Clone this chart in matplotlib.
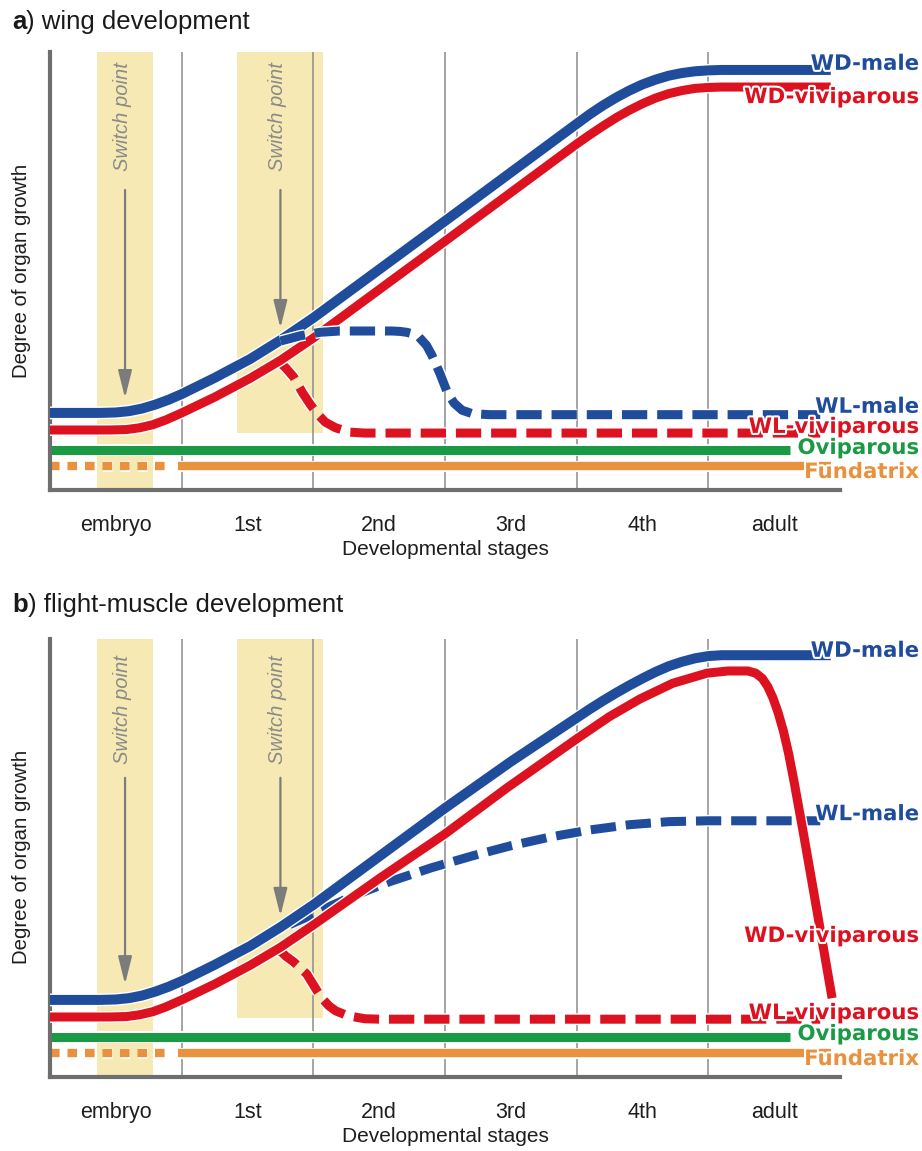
import matplotlib.pyplot as plt
import matplotlib.patheffects as pe
import numpy as np

plt.rcParams['font.family'] = ['Liberation Sans', 'DejaVu Sans']

# stages on the x axis
stage_names = ['embryo', '1st', '2nd', '3rd', '4th', 'adult']
stage_edges = [1, 2, 3, 4, 5]

# switch point bands (stage units)
band1 = [0.36, 0.78]
band2 = [1.42, 2.07]

# ---- panel a: wing development ----
wd_male_a_x = [0, 0.38, 0.50, 0.60, 0.70, 0.80, 0.90, 1.00, 1.25, 1.52, 1.75, 2.00, 3.00, 4.00, 4.10, 4.20, 4.30, 4.40, 4.50, 4.60, 4.70, 4.80, 4.90, 5.00, 5.10, 5.93]
wd_male_a_y = [17.6, 17.6, 17.7, 18.0, 18.6, 19.5, 20.6, 21.9, 25.6, 29.9, 34.2, 39.3, 61.4, 83.6, 85.8, 87.8, 89.6, 91.2, 92.6, 93.7, 94.6, 95.2, 95.6, 95.8, 95.9, 95.9]
wd_vivi_a_x = [0, 0.45, 0.58, 0.68, 0.78, 0.88, 1.00, 1.25, 1.52, 1.75, 2.00, 3.00, 4.00, 4.10, 4.20, 4.30, 4.40, 4.50, 4.60, 4.70, 4.80, 4.90, 5.00, 5.10, 5.93]
wd_vivi_a_y = [13.7, 13.7, 13.8, 14.2, 14.9, 16.0, 17.6, 21.2, 25.5, 29.6, 34.7, 56.8, 79.0, 81.1, 83.1, 85.0, 86.7, 88.2, 89.5, 90.5, 91.2, 91.7, 91.9, 92.0, 92.0]
wl_male_a_x = [1.75, 1.90, 2.05, 2.20, 2.60, 2.66, 2.71, 2.76, 2.80, 2.86, 2.90, 2.96, 3.02, 3.07, 3.13, 3.21, 3.34, 5.85]
wl_male_a_y = [34.0, 35.2, 36.0, 36.3, 36.3, 36.2, 36.0, 35.6, 35.0, 33.0, 30.8, 26.7, 22.1, 19.8, 18.2, 17.4, 17.2, 17.2]
wl_vivi_a_x = [1.72, 1.76, 1.79, 1.85, 1.92, 1.98, 2.03, 2.09, 2.17, 2.28, 2.39, 5.85]
wl_vivi_a_y = [29.2, 28.7, 27.9, 25.8, 22.1, 19.4, 17.4, 15.5, 14.2, 13.2, 13.0, 13.0]

# ---- panel b: flight-muscle development ----
wd_male_b_x = [0, 0.38, 0.50, 0.60, 0.70, 0.80, 0.90, 1.00, 1.25, 1.52, 1.75, 2.00, 3.00, 3.50, 4.00, 4.10, 4.20, 4.30, 4.40, 4.50, 4.60, 4.70, 4.80, 4.90, 5.00, 5.10, 5.93]
wd_male_b_y = [17.6, 17.6, 17.7, 18.0, 18.6, 19.5, 20.6, 21.9, 25.6, 29.9, 34.2, 39.3, 61.4, 72.0, 82.0, 84.0, 85.9, 87.7, 89.4, 91.0, 92.5, 93.8, 94.8, 95.6, 96.1, 96.3, 96.3]
wd_vivi_b_x = [0, 0.45, 0.58, 0.68, 0.78, 0.88, 1.00, 1.25, 1.52, 1.75, 2.00, 2.50, 3.00, 3.47, 4.00, 4.25, 4.48, 4.73, 4.99, 5.15, 5.30, 5.36, 5.41, 5.45, 5.49, 5.53, 5.57, 5.61, 5.65, 5.72, 5.79, 5.86, 5.94]
wd_vivi_b_y = [13.7, 13.7, 13.8, 14.2, 14.9, 16.0, 17.6, 21.2, 25.5, 29.6, 34.7, 45.3, 55.5, 66.0, 77.2, 82.3, 86.3, 89.9, 92.2, 92.7, 92.7, 92.2, 91.0, 89.2, 86.6, 83.2, 79.0, 73.8, 67.6, 56.0, 44.0, 31.9, 18.0]
wl_male_b_x = [1.82, 1.95, 2.10, 2.30, 2.58, 2.90, 3.21, 3.50, 3.80, 4.10, 4.40, 4.70, 5.00, 5.85]
wl_male_b_y = [34.8, 36.5, 38.6, 41.3, 44.6, 47.8, 50.5, 52.8, 54.8, 56.4, 57.6, 58.3, 58.5, 58.5]
wl_vivi_b_x = [1.72, 1.76, 1.79, 1.85, 1.95, 2.03, 2.07, 2.12, 2.17, 2.26, 2.39, 2.50, 5.85]
wl_vivi_b_y = [29.0, 28.5, 27.6, 26.3, 23.5, 19.6, 17.8, 16.2, 15.1, 14.0, 13.3, 13.2, 13.2]

# flat lines shared by both panels
ovi_x = [0, 5.62]
ovi_y = [9.2, 9.2]
fund_dot_x = [0, 0.92]
fund_x = [0.97, 5.93]
fund_y = [5.4, 5.4]

# label texts and heights
labels = ['WD-male', 'WD-viviparous', 'WL-male', 'WL-viviparous', 'Oviparous', 'Fundatrix']
label_y_a = [97.3, 89.7, 19.0, 14.4, 9.6, 4.1]
label_y_b = [97.3, 32.2, 60.0, 14.6, 9.8, 4.1]

blue = '#1f4d9c'
red = '#dc1220'
green = '#1b9a45'
orange = '#e8913f'
yellow = '#f6e9b3'
label_colors = [blue, red, blue, red, green, orange]


def draw_line(ax, x, y, color, lw, dashes=None, z=3):
    line, = ax.plot(x, y, color=color, lw=lw, solid_capstyle='butt',
                    dash_capstyle='butt', solid_joinstyle='round', zorder=z,
                    path_effects=[pe.Stroke(linewidth=lw + 2, foreground='white'), pe.Normal()])
    if dashes is not None:
        line.set_dashes(dashes)
    return line


def setup_panel(ax, band2_bottom, text_y, arrow_top, arrow1_end, arrow2_end):
    ax.set_xlim(0, 6)
    ax.set_ylim(0, 100)
    for s in ['top', 'right']:
        ax.spines[s].set_visible(False)
    for s in ['left', 'bottom']:
        ax.spines[s].set_color('#6e6e6e')
        ax.spines[s].set_linewidth(3)
    ax.set_yticks([])
    ax.set_xticks(np.arange(len(stage_names)) + 0.5)
    ax.set_xticklabels(stage_names, fontsize=15.5, color='#1e1e1e')
    ax.tick_params(axis='x', length=0, pad=18)
    ax.set_xlabel('Developmental stages', fontsize=15, color='#1e1e1e', labelpad=3)

    for xg in stage_edges:
        ax.axvline(xg, color='#8c8c8c', lw=1.1, zorder=1)
    ax.axvspan(band1[0], band1[1], color=yellow, lw=0, zorder=0)
    ax.fill_between(band2, band2_bottom, 100, color=yellow, lw=0, zorder=0)

    for bx, ax_end in [(np.mean(band1), arrow1_end), (1.75, arrow2_end)]:
        ax.text(bx - 0.02, text_y, 'Switch point', rotation=90, ha='center', va='center',
                fontsize=14.5, style='italic', color='#8a8a8a', zorder=2)
        ax.annotate('', xy=(bx, ax_end), xytext=(bx, arrow_top),
                    arrowprops=dict(arrowstyle='-|>,head_length=1.4,head_width=0.35',
                                    color='#7c7c7c', lw=1.6, mutation_scale=12,
                                    shrinkA=0, shrinkB=0), zorder=2)


def add_labels(ax, ys):
    for txt, y, c in zip(labels, ys, label_colors):
        ax.text(6.60, y, txt, ha='right', va='center', fontsize=15.3, fontweight='bold',
                family='DejaVu Sans', color=c, clip_on=False, zorder=8,
                path_effects=[pe.withStroke(linewidth=3, foreground='white')])


fig = plt.figure(figsize=(9.22, 11.51), dpi=100)
ax_a = fig.add_axes([50 / 922, 1 - 490 / 1151, 790 / 922, 438 / 1151])
ax_b = fig.add_axes([50 / 922, 1 - 1077 / 1151, 790 / 922, 438 / 1151])

# panel a
setup_panel(ax_a, 13.0, 85.2, 68.5, 21.0, 37.0)
draw_line(ax_a, fund_dot_x, fund_y, orange, 6, dashes=(1.15, 0.95), z=2)
draw_line(ax_a, fund_x, fund_y, orange, 6, z=2)
draw_line(ax_a, ovi_x, ovi_y, green, 6.5, z=2)
draw_line(ax_a, wl_vivi_a_x, wl_vivi_a_y, red, 6.5, dashes=(2.8, 1.1), z=3)
draw_line(ax_a, wd_vivi_a_x, wd_vivi_a_y, red, 6.5, z=4)
draw_line(ax_a, wd_male_a_x, wd_male_a_y, blue, 7.2, z=5)
draw_line(ax_a, wl_male_a_x, wl_male_a_y, blue, 6.5, dashes=(2.8, 1.1), z=6)
add_labels(ax_a, label_y_a)

# panel b
setup_panel(ax_b, 13.5, 84.0, 68.3, 21.2, 36.8)
draw_line(ax_b, fund_dot_x, fund_y, orange, 6, dashes=(1.15, 0.95), z=2)
draw_line(ax_b, fund_x, fund_y, orange, 6, z=2)
draw_line(ax_b, ovi_x, ovi_y, green, 6.5, z=2)
draw_line(ax_b, wl_vivi_b_x, wl_vivi_b_y, red, 6.5, dashes=(2.8, 1.1), z=3)
draw_line(ax_b, wl_male_b_x, wl_male_b_y, blue, 6.5, dashes=(2.8, 1.1), z=4)
draw_line(ax_b, wd_vivi_b_x, wd_vivi_b_y, red, 6.5, z=5)
draw_line(ax_b, wd_male_b_x, wd_male_b_y, blue, 7.2, z=6)
add_labels(ax_b, label_y_b)

# titles with bold panel letter
for letter, rest, ty in [('a', ') wing development', 22), ('b', ') flight-muscle development', 605)]:
    t = fig.text(12 / 922, 1 - ty / 1151, letter, fontsize=18.5, fontweight='bold',
                 va='center', ha='left', color='#1a1a1a')
    ax_a.annotate(rest, xy=(1, 0.5), xycoords=t, va='center', ha='left',
                  fontsize=18.5, color='#1a1a1a', annotation_clip=False)

# y labels
for yc in [271, 857]:
    fig.text(22 / 922, 1 - yc / 1151, 'Degree of organ growth', rotation=90,
             ha='center', va='center', fontsize=14.7, color='#1e1e1e')

fig.savefig('out.png', dpi=100, facecolor='white')
